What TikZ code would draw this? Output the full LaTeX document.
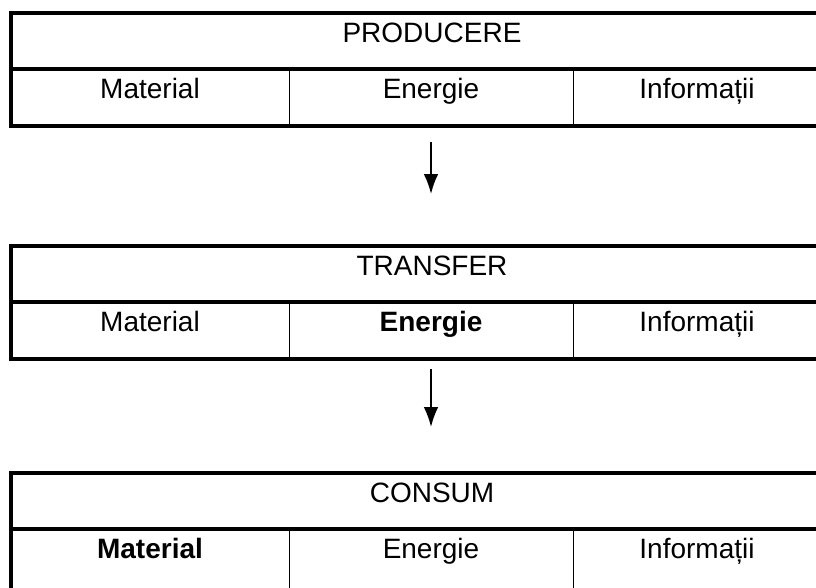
\documentclass[tikz,border=0pt]{standalone}
\usepackage{fontspec}
\setmainfont{Liberation Sans}
\usetikzlibrary{positioning,arrows.meta}
\tikzset{
  head/.style={draw, line width=3pt, inner sep=0pt, outer sep=0pt,
    minimum width=631.5pt, minimum height=42pt,
    text height=15pt, text depth=13.5pt, font=\fontsize{21}{25}\selectfont},
  cell/.style={draw, line width=0.75pt, inner sep=0pt, outer sep=0pt,
    minimum height=42.75pt,
    text height=15pt, text depth=13.5pt, font=\fontsize{21}{25}\selectfont},
  cutcell/.style={cell, minimum height=57.75pt, text depth=28.5pt},
  frame/.style={line width=3pt},
  flow/.style={-{Latex[length=15pt,width=11pt]}, line width=1.4pt}
}
\begin{document}
\begin{tikzpicture}[x=0.75pt,y=-0.75pt]
    \useasboundingbox (0,0) rectangle (816,587);

    %producere
    \node[head, anchor=north west] (prod) at (11,13) {PRODUCERE};
    \node[cell, minimum width=208.5pt, anchor=north west] (prodmat) at (prod.south west) {Material};
    \node[cell, minimum width=213pt, right=0pt of prodmat] (prodene) {Energie};
    \node[cell, minimum width=186pt, right=0pt of prodene] (prodinf) {Informații};
    \draw[frame] (prodmat.north west) rectangle (prodinf.south east);

    %transfer
    \node[head, anchor=north west] (trans) at ([yshift=-90pt]prodmat.south west) {TRANSFER};
    \node[cell, minimum width=208.5pt, anchor=north west] (transmat) at (trans.south west) {Material};
    \node[cell, minimum width=213pt, right=0pt of transmat] (transene) {\bfseries Energie};
    \node[cell, minimum width=186pt, right=0pt of transene] (transinf) {Informații};
    \draw[frame] (transmat.north west) rectangle (transinf.south east);

    %consum
    \node[head, anchor=north west] (cons) at ([yshift=-85.5pt]transmat.south west) {CONSUM};
    \node[cutcell, minimum width=208.5pt, anchor=north west] (consmat) at (cons.south west) {\bfseries Material};
    \node[cutcell, minimum width=213pt, right=0pt of consmat] (consene) {Energie};
    \node[cutcell, minimum width=186pt, right=0pt of consene] (consinf) {Informații};
    \draw[frame] (consmat.north west) rectangle (consinf.south east);

    %arrows
    \draw[flow, shorten <=12pt, shorten >=39pt] (prodene.south) -- (transene.south |- trans.north);
    \draw[flow, shorten <=7.5pt, shorten >=34.5pt] (transene.south) -- (consene.south |- cons.north);
\end{tikzpicture}
\end{document}
